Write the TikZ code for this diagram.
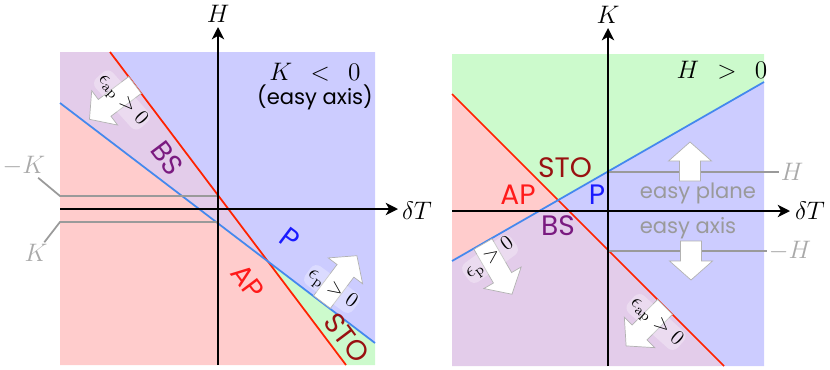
\documentclass[tikz,border=0pt]{standalone}
\usepackage{fontspec}
\newfontfamily\labfont{Poppins}
\usetikzlibrary{arrows.meta, positioning, calc}
\definecolor{regP}{HTML}{CCCCFF}
\definecolor{regAP}{HTML}{FFCCCC}
\definecolor{regBS}{HTML}{E3CCEA}
\definecolor{regSTO}{HTML}{CCFACC}
\definecolor{lineRed}{HTML}{FF2200}
\definecolor{lineBlue}{HTML}{4488EE}
\definecolor{txtBS}{HTML}{7A1A80}
\definecolor{txtP}{HTML}{1A1AFF}
\definecolor{txtAP}{HTML}{FF1A1A}
\definecolor{txtSTO}{HTML}{991111}
\definecolor{guideGray}{HTML}{9A9A9A}
\tikzset{
  axis/.style={-{Stealth[length=7pt, width=7pt, inset=2pt]}, line width=1.1pt},
  redline/.style={lineRed, line width=1pt},
  blueline/.style={lineBlue, line width=1pt},
  guide/.style={guideGray, line width=1pt},
  guidelabel/.style={text=guideGray!85, font=\Large, inner sep=1pt},
  phase/.style={font=\labfont\fontsize{16}{18}\selectfont, inner sep=0pt},
  hint/.style={font=\labfont\fontsize{12}{14}\selectfont, inner sep=0pt},
  cond/.style={font=\large, fill=white, fill opacity=0.3, text opacity=1,
               rounded corners=4pt, inner sep=1pt},
  blockarr/.style={fill=white, draw=black!30, thin},
}
\newcommand{\bigarrow}[3]{%
  \path[blockarr, shift={(#1)}, rotate=#2]
    (0,-10.5) -- ({#3-19},-10.5) -- ({#3-19},-21.5) -- (#3,0)
    -- ({#3-19},21.5) -- ({#3-19},10.5) -- (0,10.5) -- cycle;}

\begin{document}
\begin{tikzpicture}[x=0.02cm, y=-0.02cm]
  \useasboundingbox (0,0) rectangle (830,369);

  % K < 0 panel
  \coordinate (rt) at (110,52);  \coordinate (rb) at (346,365);
  \coordinate (bl) at (60,103);  \coordinate (br) at (375,343);
  \coordinate (I) at (intersection of rt--rb and bl--br);
  \fill[regP] (rt) -- (375,52) -- (br) -- (I) -- cycle;
  \fill[regBS] (60,52) -- (rt) -- (I) -- (bl) -- cycle;
  \fill[regAP] (bl) -- (I) -- (rb) -- (60,365) -- cycle;
  \fill[regSTO] (I) -- (br) -- (375,365) -- (rb) -- cycle;
  \draw[redline] (rt) -- (rb);
  \draw[blueline] (bl) -- (br);

  \node[guidelabel] (mK) at (24,166) {$-K$};
  \node[guidelabel] (pK) at (36,253) {$K$};
  \draw[guide] (218,196) -- (60,196) -- (mK);
  \draw[guide] (218,222) -- (60,222) -- (pK);

  \coordinate (Hbot) at (218,365); \coordinate (Htop) at (218,27);
  \coordinate (Tl) at (60,209);    \coordinate (Tr) at (398,209);
  \draw[axis] (Hbot) -- (Htop);
  \draw[axis] (Tl) -- (Tr);
  \node[font=\Large] (labH) at (218,14) {$H$};
  \node[font=\Large] (labT1) at (417,211) {$\delta T$};

  \node[font=\Large] (sgnK) at (315,72) {$K\;\,<\;\,0$};
  \node[hint] (ezA1) at (315,97) {(easy axis)};

  \bigarrow{135,85}{217}{57}
  \bigarrow{322,302}{53}{58}
  \node[cond, rotate=-48] (cAP1) at (122,100) {$\epsilon_{\mathrm{ap}} > 0$};
  \node[cond, rotate=-36] (cP1) at (332,289) {$\epsilon_{\mathrm{p}} > 0$};

  \node[phase, text=txtBS, rotate=-53] (BS1) at (167,158) {BS};
  \node[phase, text=txtP, rotate=-37] (P1) at (290,239) {P};
  \node[phase, text=txtAP, rotate=-53] (AP1) at (248,282) {AP};
  \node[phase, text=txtSTO, rotate=-53] (STO1) at (347,338) {STO};

  % H > 0 panel
  \coordinate (qt) at (452,94);  \coordinate (qb) at (724,366);
  \coordinate (cl) at (452,261); \coordinate (cr) at (764,82);
  \coordinate (J) at (intersection of qt--qb and cl--cr);
  \fill[regSTO] (452,54) -- (764,54) -- (cr) -- (J) -- (qt) -- cycle;
  \fill[regAP] (qt) -- (J) -- (cl) -- cycle;
  \fill[regP] (J) -- (cr) -- (764,366) -- (qb) -- cycle;
  \fill[regBS] (cl) -- (J) -- (qb) -- (452,366) -- cycle;
  \draw[redline] (qt) -- (qb);
  \draw[blueline] (cl) -- (cr);

  \node[guidelabel] (pH) at (792,172) {$H$};
  \node[guidelabel] (mH) at (790,251) {$-H$};
  \draw[guide] (608,172) -- (pH);
  \draw[guide] (608,251) -- (mH);

  \coordinate (Kbot) at (608,366); \coordinate (Ktop) at (608,28);
  \coordinate (Sl) at (452,211);   \coordinate (Sr) at (790,211);
  \draw[axis] (Kbot) -- (Ktop);
  \draw[axis] (Sl) -- (Sr);
  \node[font=\Large] (labK) at (608,15) {$K$};
  \node[font=\Large] (labT2) at (810,211) {$\delta T$};

  \node[font=\Large] (sgnH) at (722,70) {$H\;\,>\;\,0$};
  \node[hint, text=guideGray] (ezP) at (698,193) {easy plane};
  \node[hint, text=guideGray] (ezA2) at (688,228) {easy axis};

  \bigarrow{690,181}{90}{39}
  \bigarrow{691,241}{-90}{39}
  \bigarrow{483,244}{-60}{58}
  \bigarrow{665,307}{-135}{55}
  \node[cond, rotate=36] (cP2) at (490,259) {$\epsilon_{\mathrm{p}} > 0$};
  \node[cond, rotate=-42] (cAP2) at (656,322) {$\epsilon_{\mathrm{ap}} > 0$};

  \node[phase, text=txtSTO] (STO2) at (565,168) {STO};
  \node[phase, text=txtAP] (AP2) at (518,195) {AP};
  \node[phase, text=txtP] (P2) at (597,195) {P};
  \node[phase, text=txtBS] (BS2) at (558,226) {BS};
\end{tikzpicture}
\end{document}
